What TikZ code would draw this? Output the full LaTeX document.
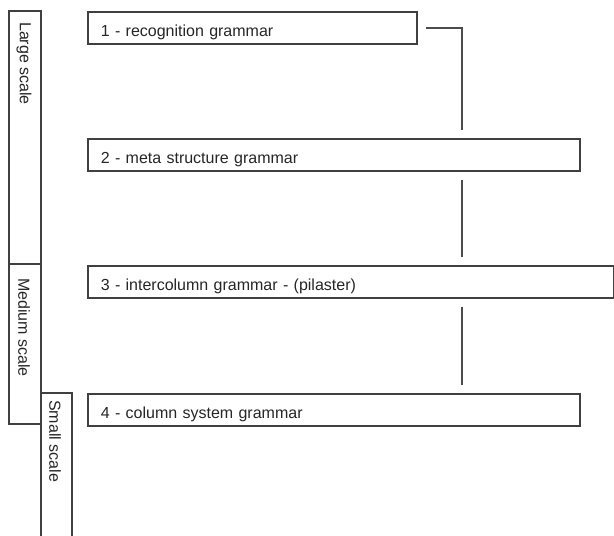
\documentclass[tikz,border=0pt]{standalone}
\usepackage{fontspec}
\setmainfont{Liberation Sans}

\tikzset{
    grammar/.style = {%
        draw = black!75,
        line width = 1.6pt,
        rectangle,
        anchor = north west,
        minimum height = 32pt,
        inner xsep = 13pt,
        inner ysep = 0pt,
        align = left,
        text = black!85,
        text width = #1,
        text height = 16.4pt,
        text depth = 0pt
    },
    link/.style = {draw = black!70, line width = 1.6pt, shorten < = 8pt, shorten > = 8pt},
    scalebar/.style = {draw = black!75, line width = 1.6pt},
    scalename/.style = {text = black!85, rotate = -90, anchor = west, inner sep = 0pt}
}

\begin{document}
\begin{tikzpicture}[x = 1pt, y = -1pt, font = \fontsize{16}{19}\selectfont]

        \useasboundingbox (0, 0) rectangle (614, 536);

        % Scale bars on the left.
        \draw[scalebar] (9, 11) rectangle (41, 264);
        \draw[scalebar] (9, 264) rectangle (41, 424);
        \draw[scalebar] (41, 536) -- (41, 393) -- (72, 393) -- (72, 536);

        \node[scalename] (large) at (24, 22) {Large scale};
        \node[scalename] (medium) at (24, 278) {Medium scale};
        \node[scalename] (small) at (55, 400) {Small scale};

        % Grammar boxes.
        \node[grammar = 303pt] (rec) at (87, 11) {1 - recognition grammar};
        \node[grammar = 466pt] (meta) at (87, 138) {2 - meta structure grammar};
        \node[grammar = 500pt] (inter) at (87, 265) {3 - intercolumn grammar - (pilaster)};
        \node[grammar = 466pt] (col) at (87, 393) {4 - column system grammar};

        % Connectors down the right side.
        \coordinate (spine) at (462, 0);
        \draw[link] (rec.east) -| (meta.north -| spine);
        \draw[link] (meta.south -| spine) -- (inter.north -| spine);
        \draw[link] (inter.south -| spine) -- (col.north -| spine);
    \end{tikzpicture}
\end{document}
